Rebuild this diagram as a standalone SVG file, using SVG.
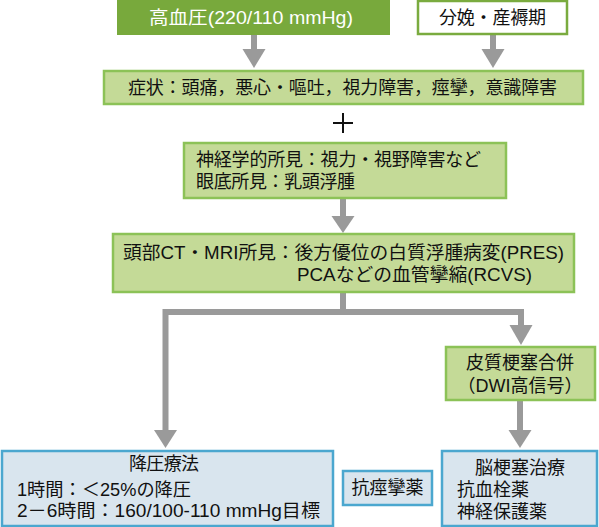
<svg xmlns="http://www.w3.org/2000/svg" width="599" height="527" viewBox="0 0 599 527">
<style>
text{font-family:"Liberation Sans","Noto Sans CJK JP",sans-serif;font-size:18px;fill:#111}
.lg{fill:#c4da97;stroke:#8cc257;stroke-width:2.5}
.bl{fill:#d9e5ee;stroke:#4ba7cf;stroke-width:2.5}
.ln{fill:none;stroke:#9a9a9a;stroke-width:6}
.hd{fill:#9a9a9a}
.c{text-anchor:middle}
</style>
<g id="connectors">
<line class="ln" x1="254" y1="35" x2="254" y2="50"/><polygon class="hd" points="242.5,49 265.5,49 254,68"/>
<line class="ln" x1="493" y1="35" x2="493" y2="50"/><polygon class="hd" points="481.5,49 504.5,49 493,68"/>
<line class="ln" x1="343" y1="198" x2="343" y2="217"/><polygon class="hd" points="331.5,216 354.5,216 343,233"/>
<polyline class="ln" points="343,292 343,312 165.5,312 165.5,431"/><polygon class="hd" points="154,430 177,430 165.5,448"/>
<polyline class="ln" points="343,312 521,312 521,326"/><polygon class="hd" points="509.5,325 532.5,325 521,345"/>
<line class="ln" x1="520" y1="400" x2="520" y2="431"/><polygon class="hd" points="508.5,430 531.5,430 520,448"/>
</g>
<g id="n-hypertension">
<rect x="117" y="-2" width="273" height="37" fill="#78a93c"/>
<text x="149" y="24" textLength="204" lengthAdjust="spacingAndGlyphs" style="fill:#fff">高血圧(220/110 mmHg)</text>
</g>
<g id="n-delivery">
<rect x="418" y="1" width="149" height="33" fill="#fff" stroke="#7aab3f" stroke-width="2.5"/>
<text x="439" y="24" textLength="107">分娩・産褥期</text>
</g>
<g id="n-symptoms">
<rect class="lg" x="104" y="71" width="479" height="33"/>
<text x="128" y="94" textLength="429">症状：頭痛，悪心・嘔吐，視力障害，痙攣，意識障害</text>
</g>
<g id="plus">
<path d="M333 123H353M343 113V133" stroke="#111" stroke-width="2" fill="none"/>
</g>
<g id="n-neuro">
<rect class="lg" x="184" y="143" width="322" height="55"/>
<text x="196" y="166" textLength="285">神経学的所見：視力・視野障害など</text>
<text x="196" y="188" textLength="159">眼底所見：乳頭浮腫</text>
</g>
<g id="n-ct">
<rect class="lg" x="113" y="234" width="461" height="58"/>
<text x="123" y="259" textLength="441" lengthAdjust="spacingAndGlyphs">頭部CT・MRI所見：後方優位の白質浮腫病変(PRES)</text>
<text x="297" y="281" textLength="235" lengthAdjust="spacingAndGlyphs">PCAなどの血管攣縮(RCVS)</text>
</g>
<g id="n-infarct">
<rect class="lg" x="446" y="347" width="149" height="53"/>
<text x="520" y="369" class="c">皮質梗塞合併</text>
<text x="520" y="392" class="c">（DWI高信号）</text>
</g>
<g id="n-bp">
<rect class="bl" x="2" y="451" width="331" height="75"/>
<text x="129" y="470" textLength="70">降圧療法</text>
<text x="17" y="496" textLength="174" lengthAdjust="spacingAndGlyphs">1時間：＜25%の降圧</text>
<text x="17" y="517" textLength="303" lengthAdjust="spacingAndGlyphs">2－6時間：160/100-110 mmHg目標</text>
</g>
<g id="n-anticonv">
<rect class="bl" x="343" y="471" width="89" height="34"/>
<text x="387.5" y="494" class="c">抗痙攣薬</text>
</g>
<g id="n-stroke">
<rect class="bl" x="442" y="451" width="155" height="75"/>
<text x="520" y="474" class="c">脳梗塞治療</text>
<text x="457" y="496">抗血栓薬</text>
<text x="457" y="518">神経保護薬</text>
</g>
</svg>
